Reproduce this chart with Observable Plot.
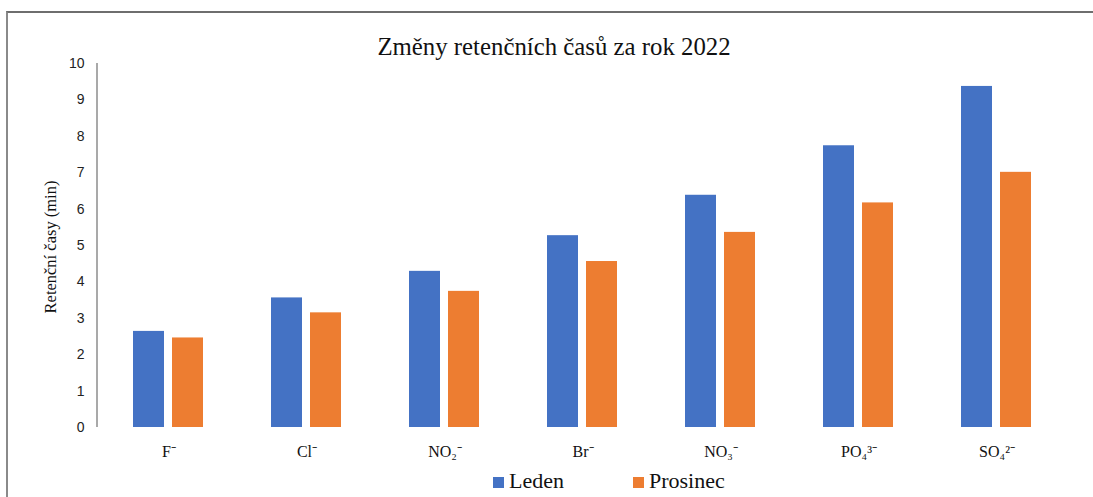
<!DOCTYPE html>
<html>
<head>
<meta charset="utf-8">
<script src="https://cdn.jsdelivr.net/npm/d3@7"></script>
<script src="https://cdn.jsdelivr.net/npm/@observablehq/plot@0.6"></script>
<style>
  html, body { margin: 0; padding: 0; background: #fff; width: 1093px; height: 497px; overflow: hidden; }
  #frame { position: absolute; left: 6px; top: 11px; width: 1200px; height: 600px;
           border-top: 2px solid #6e6e6e; border-left: 2px solid #8a8a8a; box-sizing: border-box; }
  #title { position: absolute; left: 0; width: 1108px; top: 35px; text-align: center;
           font: 24.8px/24px "Liberation Serif", serif; color: #111; white-space: nowrap; }
  #ylabel { position: absolute; left: 51px; top: 247px; transform: translate(-50%, -50%) rotate(-90deg);
            font: 16.5px/16px "Liberation Serif", serif; color: #111; white-space: nowrap; }
  #chart { position: absolute; left: 0; top: 50px; }
  #chart svg [aria-label="y-axis tick label"] { font: 14px "Liberation Sans", sans-serif; fill: #222; }
  #chart svg [aria-label="fx-axis tick label"] { font: 16px "Liberation Serif", serif; fill: #111; }
  #legend { position: absolute; top: 470px; left: 493px; display: flex;
            font: 22px/22px "Liberation Serif", serif; color: #111; white-space: nowrap; }
  #legend .item { display: inline-block; }
  #legend .sw { display: inline-block; width: 11px; height: 11px; margin-right: 5px; vertical-align: baseline; }
</style>
</head>
<body>
<div id="frame"></div>
<div id="title">Změny retenčních časů za rok 2022</div>
<div id="chart"></div>
<div id="ylabel">Retenční časy (min)</div>
<div id="legend"></div>
<script>
const ions = ["F⁻", "Cl⁻", "NO₂⁻", "Br⁻", "NO₃⁻", "PO₄³⁻", "SO₄²⁻"];
const seriesNames = ["Leden", "Prosinec"];
const leden = [2.64, 3.56, 4.29, 5.27, 6.38, 7.74, 9.37];
const prosinec = [2.46, 3.15, 3.74, 4.56, 5.36, 6.17, 7.01];
const yTicks = [0, 1, 2, 3, 4, 5, 6, 7, 8, 9, 10];
const colors = ["#4472C4", "#ED7D31"];

const data = ions.flatMap((ion, i) => [
  {ion, series: seriesNames[0], value: leden[i]},
  {ion, series: seriesNames[1], value: prosinec[i]}
]);

const W = 1093, mL = 97, mR = 25;
const fxPadInner = 0.488, fxPadOuter = 0.244;
const step = (W - mL - mR) / (ions.length - fxPadInner + 2 * fxPadOuter);
const facetOffset = step * fxPadOuter; // y axis sits at the first facet's left edge

const chart = Plot.plot({
  width: W,
  height: 415,
  marginLeft: mL,
  marginRight: mR,
  marginTop: 13,
  marginBottom: 38,
  fx: {domain: ions, paddingInner: fxPadInner, paddingOuter: fxPadOuter, tickSize: 0, tickPadding: 18, label: null},
  x: {domain: seriesNames, paddingInner: 0.2, paddingOuter: 0, axis: null},
  y: {domain: [0, 10], ticks: yTicks, tickSize: 0, tickPadding: 15 + facetOffset, label: null},
  color: {domain: seriesNames, range: colors},
  marks: [
    Plot.barY(data, {fx: "ion", x: "series", y: "value", fill: "series"})
  ]
});

document.getElementById("chart").appendChild(chart);

// vertical axis line drawn from the y scale
const ys = chart.scale("y");
d3.select(chart).append("line")
  .attr("x1", mL).attr("x2", mL)
  .attr("y1", ys.apply(10)).attr("y2", ys.apply(0))
  .attr("stroke", "#8c8c8c").attr("stroke-width", 1.5);

// legend
const legend = d3.select("#legend");
seriesNames.forEach((s, i) => {
  const it = legend.append("span").attr("class", "item").style("width", i === 0 ? "140px" : "auto");
  it.append("span").attr("class", "sw").style("background", colors[i]);
  it.append("span").text(s);
});
</script>
</body>
</html>
